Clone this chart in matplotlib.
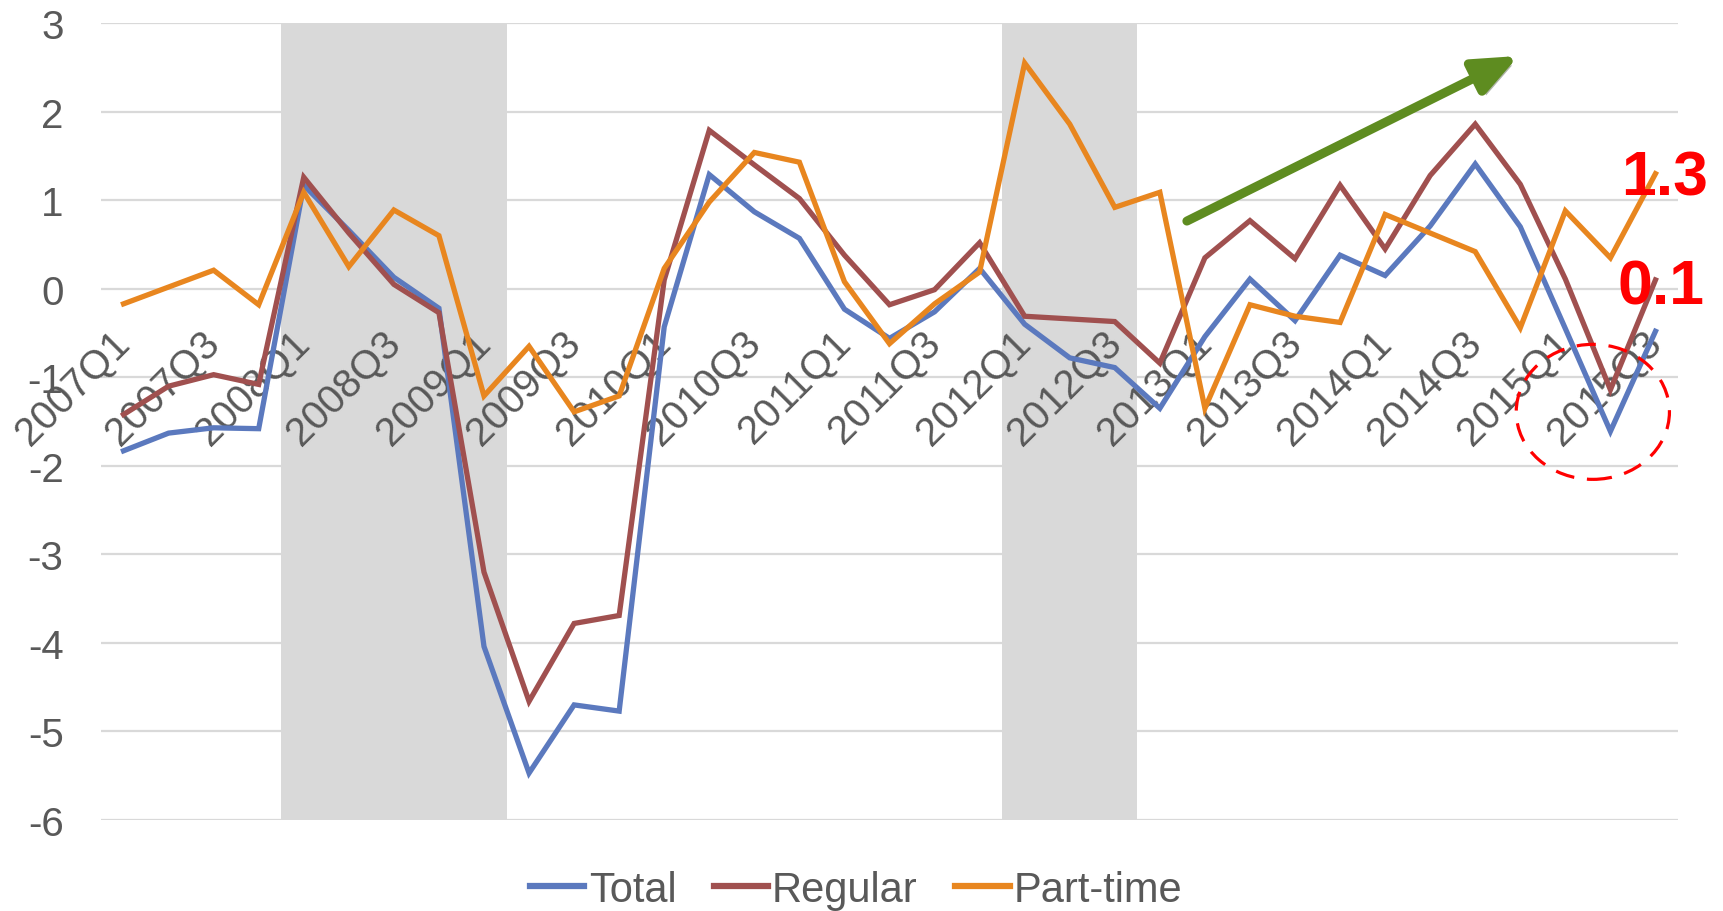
import matplotlib
matplotlib.use("Agg")
import matplotlib.pyplot as plt
from matplotlib.patches import Ellipse
import matplotlib.patheffects as pe

plt.rcParams['font.family'] = ['Liberation Sans', 'DejaVu Sans']
plt.rcParams['axes.unicode_minus'] = False

# Quarterly year-on-year change (%), 2007Q1 - 2015Q3
quarters = [f"{y}Q{q}" for y in range(2007, 2016) for q in range(1, 5)][:35]

total = [-1.83, -1.63, -1.57, -1.58, 1.17, 0.66, 0.13, -0.22, -4.04, -5.47,
         -4.70, -4.77, -0.43, 1.29, 0.87, 0.57, -0.23, -0.56, -0.26, 0.23,
         -0.40, -0.78, -0.89, -1.35, -0.54, 0.11, -0.36, 0.38, 0.15, 0.71,
         1.41, 0.70, -0.45, -1.61, -0.48]

regular = [-1.42, -1.10, -0.97, -1.08, 1.26, 0.63, 0.05, -0.27, -3.20, -4.66,
           -3.78, -3.69, 0.10, 1.79, 1.40, 1.02, 0.38, -0.18, -0.01, 0.52,
           -0.31, -0.34, -0.37, -0.84, 0.35, 0.77, 0.34, 1.17, 0.45, 1.28,
           1.86, 1.18, 0.11, -1.14, 0.1]

part_time = [-0.17, 0.02, 0.21, -0.18, 1.09, 0.25, 0.89, 0.60, -1.21, -0.65,
             -1.39, -1.21, 0.23, 0.98, 1.54, 1.43, 0.08, -0.62, -0.17, 0.19,
             2.55, 1.86, 0.92, 1.09, -1.35, -0.18, -0.31, -0.38, 0.84, 0.63,
             0.42, -0.44, 0.88, 0.35, 1.3]

# Shaded periods (first and last quarter, inclusive)
shaded = [("2008Q1", "2009Q1"), ("2012Q1", "2012Q3")]

series = [("Total", total, "#5B79BE"),
          ("Regular", regular, "#A0504F"),
          ("Part-time", part_time, "#E8861F")]

TXT = "#595959"
x = list(range(len(quarters)))
yticks = list(range(-6, 4))

fig = plt.figure(figsize=(17.23, 9.12), dpi=100)
ax = fig.add_axes([101 / 1723, 1 - 821 / 912, 1577 / 1723, (821 - 24.2) / 912])

# gridlines sit under the shaded bands
for v in yticks:
    ax.axhline(v, color="#D9D9D9", lw=1.6, zorder=0.5)

for start, end in shaded:
    ax.axvspan(quarters.index(start) - 0.5, quarters.index(end) + 0.5,
               color="#D9D9D9", lw=0, zorder=1)

for name, vals, col in series:
    ax.plot(x, vals, color=col, lw=3.8, label=name, zorder=3,
            solid_joinstyle="miter")

ax.set_xlim(-0.5, len(quarters) - 0.5)
ax.set_ylim(-6, 3)
ax.set_yticks(yticks)
ax.set_yticklabels([str(v) for v in yticks])
ax.set_axisbelow(False)

for s in ax.spines.values():
    s.set_visible(False)
ax.spines['bottom'].set_position(('data', 0))

tick_idx = x[::2]
ax.set_xticks(tick_idx)
ax.set_xticklabels([quarters[i] for i in tick_idx], rotation=45,
                   ha="right", va="center", rotation_mode="anchor")
ax.tick_params(axis="x", length=0, pad=34, labelsize=29, labelcolor=TXT)
ax.tick_params(axis="y", length=0, pad=27, labelsize=29, labelcolor=TXT)

# upward trend arrow
arr = ax.annotate("", xy=(30.96, 2.63), xytext=(23.6, 0.765),
                  arrowprops=dict(arrowstyle="-|>,head_length=1.2,head_width=0.5",
                                  color="#5E8C20", lw=6.5, mutation_scale=22,
                                  shrinkA=0, shrinkB=0),
                  zorder=5, annotation_clip=False)
arr.arrow_patch.set_path_effects([pe.SimplePatchShadow(offset=(3, -3), alpha=0.35),
                                  pe.Normal()])

# highlight of the latest dip
ax.add_patch(Ellipse((32.61, -1.39), 3.40, 1.525, fill=False, ec="#FF0000",
                     lw=2.3, ls=(0, (6, 4)), zorder=5, clip_on=False))

ax.text(34.21, part_time[-1] - 0.23, f"{part_time[-1]:.1f}", color="#FF0000",
        fontsize=45, fontweight="bold", ha="center", va="baseline", zorder=6)
ax.text(34.12, regular[-1] - 0.27, f"{regular[-1]:.1f}", color="#FF0000",
        fontsize=45, fontweight="bold", ha="center", va="baseline", zorder=6)

leg = fig.legend(loc="center", bbox_to_anchor=(0.497, 1 - 891 / 912), ncol=3,
                 frameon=False, fontsize=30, handlelength=1.3,
                 handletextpad=0.1, columnspacing=0.9)
for t in leg.get_texts():
    t.set_color(TXT)
for h in leg.get_lines():
    h.set_linewidth(4.5)

fig.savefig("out.png", dpi=100)
